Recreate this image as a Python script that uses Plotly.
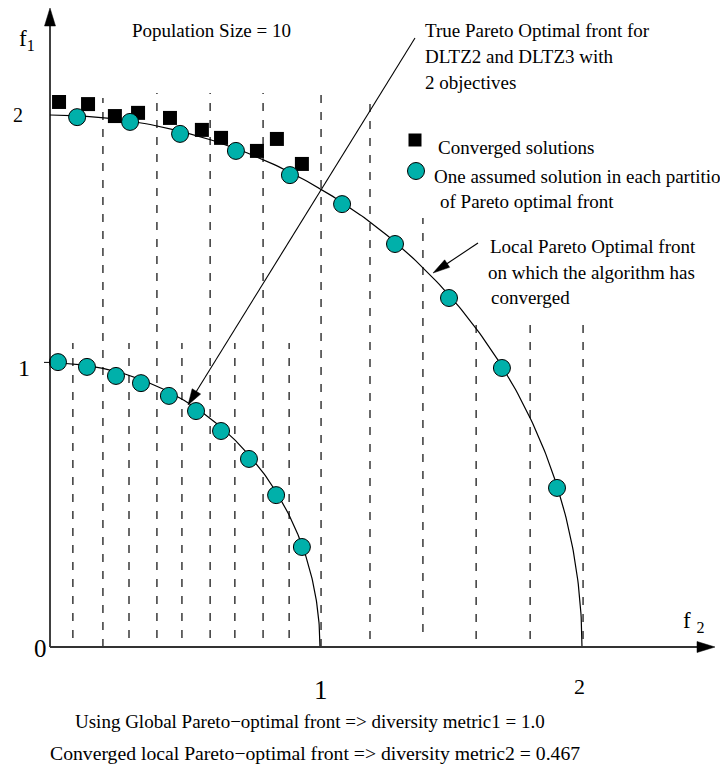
import numpy as np
import plotly.graph_objects as go

W, H = 728, 765
OFF = 8            # page body margin offset of the plot in the browser
X0PX, Y0PX, UNIT = 50, 647, 266  # page-pixel position of origin, pixels per unit

# ---------------- data ----------------
outer_radius = 2.0            # local Pareto-optimal front (converged)
inner_rx, inner_ry = 1.015, 1.068   # true Pareto-optimal front as drawn

converged_f2 = [0.034, 0.143, 0.244, 0.331, 0.451, 0.571, 0.643, 0.778, 0.853, 0.947]
converged_f1 = [2.049, 2.041, 1.996, 2.008, 1.989, 1.944, 1.914, 1.865, 1.910, 1.816]

local_f2 = [0.102, 0.301, 0.489, 0.699, 0.902, 1.098, 1.297, 1.500, 1.699, 1.906]
local_f1 = [1.992, 1.974, 1.929, 1.865, 1.774, 1.665, 1.515, 1.312, 1.049, 0.598]

global_f2 = [0.030, 0.139, 0.248, 0.342, 0.447, 0.549, 0.643, 0.748, 0.850, 0.947]
global_f1 = [1.071, 1.053, 1.019, 0.992, 0.944, 0.887, 0.812, 0.707, 0.571, 0.376]

# partition lines: position, top, bottom
outer_part_x = [0.199, 0.402, 0.602, 0.801, 1.019, 1.203, 1.402, 1.602, 1.805, 2.004]
outer_part_top = [2.064, 2.083, 2.083, 2.083, 2.083, 2.075, 1.613, 1.222, 1.222, 1.222]
outer_part_bot = [0.0, 0.034, 0.034, 0.034, 0.0, 0.03, 0.056, 0.03, 0.03, 0.03]
inner_part_x = [0.086, 0.297, 0.496, 0.695, 0.899]
inner_part_top = [1.143, 1.143, 1.143, 1.143, 1.143]
inner_part_bot = [0.034, 0.034, 0.034, 0.034, 0.034]

tick_f2_vals = [1.02, 1.99]
tick_f2_text = ["1", "2"]
tick_f1_vals = [1.05, 2.0]
tick_f1_text = ["1", "2"]

# ---------------- helpers ----------------
def px2x(px):
    return (px - X0PX) / UNIT

def px2y(py):
    return (Y0PX - py) / UNIT

def paper(px, py):
    return (px - OFF) / W, 1 - (py - OFF) / H

def tri(tip_px, from_px, length, width):
    tx, ty = tip_px
    fx, fy = from_px
    d = np.hypot(tx - fx, ty - fy)
    ux, uy = (tx - fx) / d, (ty - fy) / d
    bx, by = tx - ux * length, ty - uy * length
    nx, ny = -uy, ux
    p1 = (bx + nx * width / 2, by + ny * width / 2)
    p2 = (bx - nx * width / 2, by - ny * width / 2)
    pts = [(tx, ty), p1, p2]
    path = "M " + " L ".join(f"{px2x(a):.5f},{px2y(b):.5f}" for a, b in pts) + " Z"
    return dict(type="path", path=path, fillcolor="black", line=dict(color="black", width=0.5),
                xref="x", yref="y", layer="above")

fig = go.Figure()

# fronts
t = np.linspace(0, np.pi / 2, 200)
fig.add_trace(go.Scatter(x=outer_radius * np.cos(t), y=outer_radius * np.sin(t), mode="lines",
                         line=dict(color="black", width=1.2), hoverinfo="skip", showlegend=False))
fig.add_trace(go.Scatter(x=inner_rx * np.cos(t), y=inner_ry * np.sin(t), mode="lines",
                         line=dict(color="black", width=1.2), hoverinfo="skip", showlegend=False))

shapes = []
dash = "8px,9px"
for x, t0, b0 in zip(outer_part_x, outer_part_top, outer_part_bot):
    shapes.append(dict(type="line", x0=x, x1=x, y0=b0, y1=t0, xref="x", yref="y",
                       line=dict(color="#1a1a1a", width=1.3, dash=dash), layer="below"))
for x, t0, b0 in zip(inner_part_x, inner_part_top, inner_part_bot):
    shapes.append(dict(type="line", x0=x, x1=x, y0=b0, y1=t0, xref="x", yref="y",
                       line=dict(color="#1a1a1a", width=1.3, dash=dash), layer="below"))

# axes
shapes.append(dict(type="line", x0=0, y0=0, x1=0, y1=px2y(20), xref="x", yref="y",
                   line=dict(color="black", width=1.5)))
shapes.append(dict(type="line", x0=0, y0=0, x1=px2x(705), y1=0, xref="x", yref="y",
                   line=dict(color="#333", width=1.8)))
shapes.append(tri((50, 8), (50, 647), 18, 11))
shapes.append(tri((715, 647), (50, 647), 18, 11))

# pointer arrows
shapes.append(dict(type="line", x0=px2x(415), y0=px2y(38), x1=px2x(196), y1=px2y(392),
                   xref="x", yref="y", line=dict(color="black", width=1.1)))
shapes.append(tri((188, 405), (415, 38), 16, 10))
shapes.append(dict(type="line", x0=px2x(478), y0=px2y(243), x1=px2x(445), y1=px2y(265),
                   xref="x", yref="y", line=dict(color="black", width=1.1)))
shapes.append(tri((433, 273), (478, 243), 17, 9))

# y tick mark at 1
shapes.append(dict(type="line", x0=px2x(44), x1=0, y0=tick_f1_vals[0] + 0.02, y1=tick_f1_vals[0] + 0.02,
                   xref="x", yref="y", line=dict(color="black", width=1)))

# markers
fig.add_trace(go.Scatter(x=converged_f2, y=converged_f1, mode="markers",
                         marker=dict(symbol="square", size=14, color="black"),
                         showlegend=False, hoverinfo="skip"))
circ = dict(symbol="circle", size=17, color="#00b0aa", line=dict(color="black", width=1))
fig.add_trace(go.Scatter(x=local_f2, y=local_f1, mode="markers", marker=circ,
                         showlegend=False, hoverinfo="skip"))
fig.add_trace(go.Scatter(x=global_f2, y=global_f1, mode="markers", marker=circ,
                         showlegend=False, hoverinfo="skip"))
# legend markers
fig.add_trace(go.Scatter(x=[px2x(415)], y=[px2y(140)], mode="markers",
                         marker=dict(symbol="square", size=13, color="black"),
                         showlegend=False, hoverinfo="skip"))
fig.add_trace(go.Scatter(x=[px2x(416)], y=[px2y(171)], mode="markers", marker=circ,
                         showlegend=False, hoverinfo="skip"))

FONT = "Liberation Serif"
ann = []

def text(s, px, py, size=19, xanchor="left"):
    x, y = paper(px, py)
    ann.append(dict(text=s, x=x, y=y, xref="paper", yref="paper", showarrow=False,
                    xanchor=xanchor, yanchor="middle", font=dict(family=FONT, size=size, color="black")))

text("Population Size = 10", 130, 30)
text("True Pareto Optimal front for", 423, 30)
text("DLTZ2 and DLTZ3 with", 423, 56)
text("2 objectives", 423, 83)
text("Converged solutions", 436, 147)
text("One assumed solution in each partitio", 432, 176)
text("of Pareto optimal front", 438, 201)
text("Local Pareto Optimal front", 488, 246)
text("on which the algorithm has", 486, 272)
text("converged", 489, 297)
text("Using Global Pareto\u2212optimal front => diversity metric1 = 1.0", 73, 721)
text("Converged local Pareto\u2212optimal front => diversity metric2 = 0.467", 48, 753, size=19.7)

# axis labels and ticks
text("f<sub>1</sub>", 17, 40, size=23)
text("f <sub>2</sub>", 681, 622, size=23)
text("0", 40, 648, size=25, xanchor="center")
for v, s, sz in zip(tick_f1_vals, tick_f1_text, [24, 20]):
    px = 24 if s == "1" else 18
    ann.append(dict(text=s, x=(px - OFF) / W, xref="paper", y=v, yref="y", showarrow=False,
                    xanchor="center", yanchor="middle", font=dict(family=FONT, size=sz, color="black")))
for v, s, sz in zip(tick_f2_vals, tick_f2_text, [27, 22]):
    py = 690 if s == "1" else 686
    ann.append(dict(text=s, x=v, xref="x", y=1 - (py - OFF) / H, yref="paper", showarrow=False,
                    xanchor="center", yanchor="middle", font=dict(family=FONT, size=sz, color="black")))

fig.update_layout(
    width=W, height=H, autosize=False,
    margin=dict(l=0, r=0, t=0, b=0),
    paper_bgcolor="white", plot_bgcolor="white",
    xaxis=dict(range=[px2x(OFF), px2x(W + OFF)], visible=False, fixedrange=True),
    yaxis=dict(range=[px2y(H + OFF), px2y(OFF)], visible=False, fixedrange=True),
    shapes=shapes, annotations=ann,
)

fig.write_html("out.html")
